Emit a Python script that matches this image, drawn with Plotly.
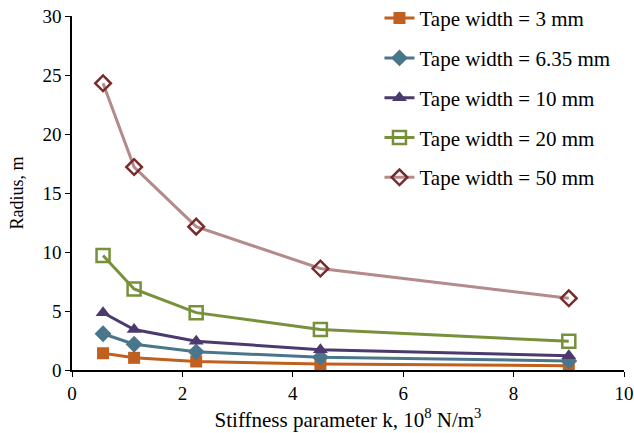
import plotly.graph_objects as go

k_values = [0.5625, 1.125, 2.25, 4.5, 9.0]
series_names = ["Tape width = 3 mm", "Tape width = 6.35 mm", "Tape width = 10 mm",
                "Tape width = 20 mm", "Tape width = 50 mm"]
r_3mm = [1.42, 1.03, 0.72, 0.51, 0.36]
r_635mm = [3.07, 2.18, 1.54, 1.09, 0.77]
r_10mm = [4.85, 3.43, 2.43, 1.72, 1.21]
r_20mm = [9.7, 6.87, 4.86, 3.44, 2.43]
r_50mm = [24.3, 17.2, 12.15, 8.6, 6.08]

styles = [
    dict(line="#C0601F", mcolor="#C0601F", symbol="square", size=12, mline=None),
    dict(line="#4A768C", mcolor="#4A768C", symbol="diamond", size=13, mline=None),
    dict(line="#4B3A6E", mcolor="#4B3A6E", symbol="triangle-up", size=13, mline=None),
    dict(line="#76913A", mcolor="#76913A", symbol="square-open", size=13, mline=2.5),
    dict(line="#B48A8A", mcolor="#7A2A2A", symbol="diamond-open", size=12, mline=2.5),
]
all_series = [r_3mm, r_635mm, r_10mm, r_20mm, r_50mm]

fig = go.Figure()
for i, (name, ys, st) in enumerate(zip(series_names, all_series, styles)):
    marker = dict(symbol=st["symbol"], size=st["size"], color=st["mcolor"])
    if st["mline"]:
        marker["line"] = dict(width=st["mline"], color=st["mcolor"])
    fig.add_trace(go.Scatter(
        x=k_values, y=ys, name=name, mode="lines+markers",
        line=dict(color=st["line"], width=3),
        marker=marker, legendgroup=f"g{i}",
    ))

font_family = "Liberation Serif"
tick_font = dict(family=font_family, size=19, color="black")
fig.update_layout(
    width=634, height=433,
    margin=dict(l=72, r=10, t=16, b=63, autoexpand=False),
    plot_bgcolor="white", paper_bgcolor="white",
    font=dict(family=font_family, size=19, color="black"),
    showlegend=True,
    legend=dict(x=0.557, y=1.051, xanchor="left", yanchor="top",
                bgcolor="rgba(255,255,255,0)", tracegroupgap=9.5,
                font=dict(family=font_family, size=21, color="black")),
    xaxis=dict(range=[0, 10], tickvals=[0, 2, 4, 6, 8, 10], showgrid=False, zeroline=False,
               showline=True, linecolor="black", linewidth=1.5, ticks="outside",
               ticklen=5, tickcolor="black", automargin=False, tickfont=tick_font,
               ticklabeloverflow="allow",
               title=dict(text="Stiffness parameter k, 10<sup>8</sup> N/m<sup>3</sup>",
                          standoff=10, font=dict(family=font_family, size=21, color="black"))),
    yaxis=dict(range=[0, 30], tickvals=[0, 5, 10, 15, 20, 25, 30], showgrid=False, zeroline=False,
               showline=True, linecolor="black", linewidth=1.5, ticks="outside",
               ticklen=5, tickcolor="black", automargin=False, tickfont=tick_font,
               ticklabeloverflow="allow",
               title=dict(text="Radius, m", standoff=14,
                          font=dict(family=font_family, size=18, color="black"))),
)
fig.write_html(
    "out.html",
    config={"displayModeBar": False},
    post_script=("document.body.style.margin='0px';"
                 "document.body.style.overflow='hidden';"
                 "document.documentElement.style.overflow='hidden';"),
)
